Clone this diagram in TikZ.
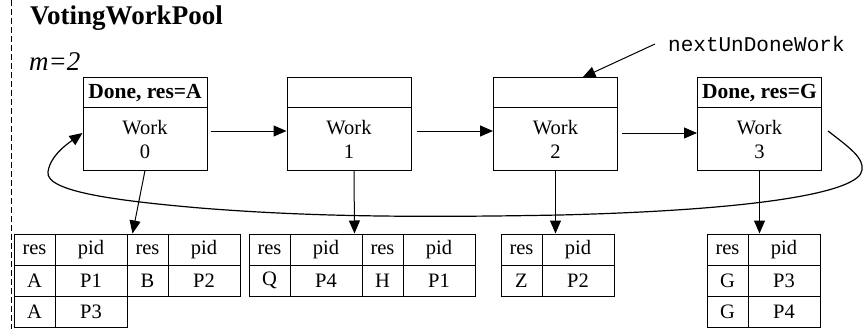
\documentclass[tikz,border=0pt]{standalone}
\usepackage{fontspec}
\setmainfont{Liberation Serif}
\setmonofont{Liberation Mono}
\usetikzlibrary{arrows.meta,calc}
\begin{document}
\begin{tikzpicture}[x=1pt,y=-1pt,
  hdr/.style={draw, line width=1pt, minimum width=124pt, minimum height=30pt, inner sep=0pt, font=\fontsize{21.5}{23}\selectfont\bfseries},
  body/.style={draw, line width=1pt, minimum width=124pt, minimum height=62pt, inner sep=0pt, align=center, font=\fontsize{20.5}{24}\selectfont},
  cell/.style={draw, line width=1pt, minimum height=31pt, inner sep=0pt, font=\fontsize{20.5}{22}\selectfont},
  rc/.style={cell, minimum width=41pt},
  pc/.style={cell, minimum width=72pt},
  arr/.style={-{Triangle[length=13pt,width=11pt]}, line width=1pt}]
\useasboundingbox (0,0) rectangle (863,329);
\draw[line width=1pt, dash pattern=on 6pt off 3pt] (11,0) -- (11,329);
\node[anchor=west, inner sep=0pt, font=\fontsize{27}{30}\selectfont\bfseries] (title) at (30,18) {VotingWorkPool};
\node[anchor=west, inner sep=0pt, font=\fontsize{27}{30}\selectfont\itshape] (mval) at (29,62) {m=2};
% work boxes
\node[hdr] (h0) at (145,93) {Done, res=A};
\node[body] (w0) at (145,139) {Work\\0};
\node[hdr] (h1) at (349,93) {};
\node[body] (w1) at (349,139) {Work\\1};
\node[hdr] (h2) at (555.5,93) {};
\node[body] (w2) at (555.5,139) {Work\\2};
\node[hdr] (h3) at (759.5,93) {Done, res=G};
\node[body] (w3) at (759.5,139) {Work\\3};
% next pointer
\node[anchor=west, inner sep=0pt, font=\fontsize{21}{24}\selectfont\ttfamily] (nw) at (668,44) {nextUnDoneWork};
\draw[arr] ([xshift=-13pt]nw.west) -- ([xshift=27pt]h2.north);
% chain arrows
\draw[arr] ([xshift=3pt,yshift=8pt]w0.east) -- ([yshift=8pt]w1.west);
\draw[arr] ([xshift=5pt,yshift=8pt]w1.east) -- ([yshift=8pt]w2.west);
\draw[arr] ([xshift=4pt,yshift=6pt]w2.east) -- ([yshift=6pt]w3.west);
% loop
\draw[arr, line width=1.2pt] ([xshift=6pt,yshift=8pt]w3.east)
  .. controls (850,148) and (864,158) .. (862,170)
  .. controls (860,192) and (760,210) .. (560,215)
  .. controls (400,218) and (300,216) .. (200,208)
  .. controls (120,201) and (45,192) .. (48,172)
  .. controls (50,155) and (70,142) .. ([yshift=6pt]w0.west);
% table A
\node[rc] (a11) at (34.5,249.5) {res};
\node[pc] (a12) at (91,249.5) {pid};
\node[rc] (a13) at (147.5,249.5) {res};
\node[pc] (a14) at (204,249.5) {pid};
\node[rc] (a21) at (34.5,280.5) {A};
\node[pc] (a22) at (91,280.5) {P1};
\node[rc] (a23) at (147.5,280.5) {B};
\node[pc] (a24) at (204,280.5) {P2};
\node[rc] (a31) at (34.5,311.5) {A};
\node[pc] (a32) at (91,311.5) {P3};
% table B
\node[rc] (b11) at (269.5,249.5) {res};
\node[pc] (b12) at (326,249.5) {pid};
\node[rc] (b13) at (382.5,249.5) {res};
\node[pc] (b14) at (439,249.5) {pid};
\node[rc] (b21) at (269.5,280.5) {Q};
\node[pc] (b22) at (326,280.5) {P4};
\node[rc] (b23) at (382.5,280.5) {H};
\node[pc] (b24) at (439,280.5) {P1};
% table C
\node[rc] (c11) at (521.5,249.5) {res};
\node[pc] (c12) at (578,249.5) {pid};
\node[rc] (c21) at (521.5,280.5) {Z};
\node[pc] (c22) at (578,280.5) {P2};
% table D
\node[rc] (d11) at (727.5,249.5) {res};
\node[pc] (d12) at (784,249.5) {pid};
\node[rc] (d21) at (727.5,280.5) {G};
\node[pc] (d22) at (784,280.5) {P3};
\node[rc] (d31) at (727.5,311.5) {G};
\node[pc] (d32) at (784,311.5) {P4};
% down arrows
\draw[arr] (w0.south) -- ([xshift=6pt]a13.north west);
\draw[arr] ([xshift=5pt]w1.south) -- ([xshift=-8pt]b12.north east);
\draw[arr] (w2.south) -- (w2.south |- c12.north);
\draw[arr] (w3.south) -- (w3.south |- d12.north);
\end{tikzpicture}
\end{document}
